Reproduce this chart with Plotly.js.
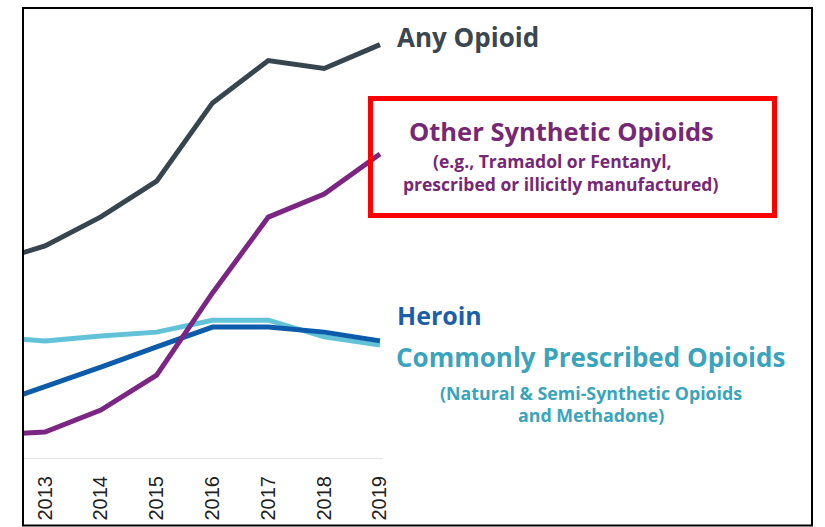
<!DOCTYPE html>
<html>
<head>
<meta charset="utf-8">
<script src="https://cdn.plot.ly/plotly-3.0.1.min.js"></script>
<style>html,body{margin:0;padding:0;background:#fff;}#chart{width:825px;height:527px;}</style>
</head>
<body>
<div id="chart"></div>
<script>
// Data (deaths per 100,000)
const years = [2012, 2013, 2014, 2015, 2016, 2017, 2018, 2019];
const anyOpioid = [7.36, 8.0, 9.1, 10.45, 13.4, 15.0, 14.7, 15.6];
const otherSynthetic = [0.87, 0.98, 1.81, 3.13, 6.23, 9.09, 9.96, 11.47];
const heroin = [1.96, 2.68, 3.43, 4.19, 4.94, 4.94, 4.75, 4.42];
const commonlyPrescribed = [4.57, 4.42, 4.6, 4.75, 5.2, 5.2, 4.57, 4.26];
const tickYears = [2013, 2014, 2015, 2016, 2017, 2018, 2019];
const tickLabels = ['2013', '2014', '2015', '2016', '2017', '2018', '2019'];

// Layout geometry (pixels)
const W = 825, H = 527;
const L = 22, R = 383, T = 7, B = 458;
const px = x => (x - L) / (R - L);
const py = y => (B - y) / (B - T);

const FONT = 'Open Sans, Liberation Sans, sans-serif';

function trace(y, color) {
  return {x: years, y: y, type: 'scatter', mode: 'lines',
    line: {color: color, width: 5}, hoverinfo: 'skip', showlegend: false};
}

const data = [
  trace(commonlyPrescribed, '#62c3d8'),
  trace(heroin, '#0d5cab'),
  trace(otherSynthetic, '#7a2682'),
  trace(anyOpioid, '#37454f')
];

function ann(text, x, y, size, color, anchor) {
  return {text: text, xref: 'paper', yref: 'paper', x: px(x), y: py(y),
    xanchor: anchor, yanchor: 'middle', showarrow: false, borderpad: 0,
    font: {family: FONT, size: size, color: color, weight: 700}};
}

const annotations = [
  ann('<b>Any Opioid</b>', 396, 37, 26, '#3a4750', 'left'),
  ann('<b>Other Synthetic Opioids</b>', 561, 130.5, 25.5, '#762877', 'center'),
  ann('<b>(e.g., Tramadol or Fentanyl,</b>', 552, 160.5, 17.5, '#762877', 'center'),
  ann('<b>prescribed or illicitly manufactured)</b>', 560, 184, 17.5, '#762877', 'center'),
  ann('<b>Heroin</b>', 396, 315, 25, '#1b5ea9', 'left'),
  ann('<b>Commonly Prescribed Opioids</b>', 590, 357, 26, '#3aa4bd', 'center'),
  ann('<b>(Natural &amp; Semi-Synthetic Opioids</b>', 591, 393, 17.8, '#3aa4bd', 'center'),
  ann('<b>and Methadone)</b>', 591, 415, 17.8, '#3aa4bd', 'center')
];

const shapes = [
  {type: 'rect', xref: 'paper', yref: 'paper', x0: px(23), x1: px(812), y0: py(525.5), y1: py(8),
    line: {color: '#000', width: 2}, fillcolor: 'rgba(0,0,0,0)'},
  {type: 'rect', xref: 'paper', yref: 'paper', x0: px(370.5), x1: px(774.5), y0: py(215.5), y1: py(98.5),
    line: {color: '#ff0000', width: 5}, fillcolor: 'rgba(0,0,0,0)'}
];

const layout = {
  width: W, height: H,
  margin: {l: L, r: W - R, t: T, b: H - B, pad: 0},
  paper_bgcolor: '#fff', plot_bgcolor: '#fff',
  xaxis: {range: [2012.588, 2019.054], tickvals: tickYears, ticktext: tickLabels,
    tickangle: -90, ticks: '', ticklabelstandoff: 9, showgrid: false, zeroline: false,
    showline: true, linecolor: '#e3e3e3', linewidth: 1,
    tickfont: {family: 'Liberation Sans, Arial, sans-serif', size: 20, color: '#222'},
    fixedrange: true},
  yaxis: {range: [0, 17.02], showticklabels: false, showgrid: false, zeroline: false,
    showline: false, ticks: '', fixedrange: true},
  annotations: annotations,
  shapes: shapes,
  showlegend: false
};

Plotly.newPlot('chart', data, layout, {displayModeBar: false, staticPlot: true});
</script>
</body>
</html>
